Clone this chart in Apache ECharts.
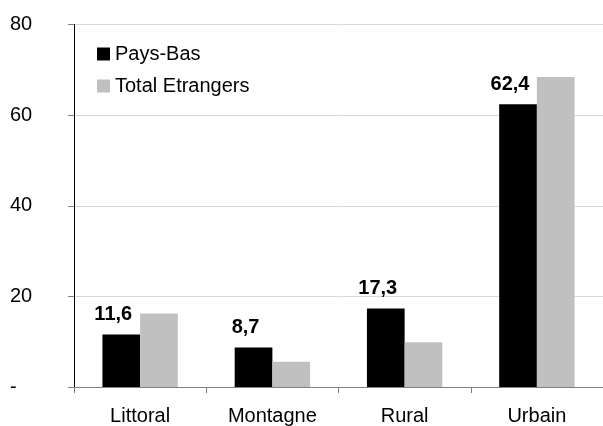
<!DOCTYPE html>
<html><head><meta charset="utf-8">
<script src="https://cdn.jsdelivr.net/npm/echarts@6/dist/echarts.min.js"></script>
<style>html,body{margin:0;padding:0;background:#fff}#c{width:603px;height:426px}</style>
</head><body><div id="c"></div>
<script>
const categories = ['Littoral', 'Montagne', 'Rural', 'Urbain'];
const paysBas = [11.6, 8.7, 17.3, 62.4];
const totalEtrangers = [16.2, 5.6, 9.9, 68.4];
const yTicks = [0, 20, 40, 60, 80];

const font = 'Liberation Sans, Arial, sans-serif';
const chart = echarts.init(document.getElementById('c'), null, {renderer: 'canvas'});
chart.setOption({
  animation: false,
  grid: {left: 74, right: -3, top: 24.5, bottom: 38.5, containLabel: false},
  legend: {
    orient: 'vertical', left: 97, top: 44, itemWidth: 13, itemHeight: 13, itemGap: 12,
    icon: 'rect', padding: 0,
    textStyle: {fontFamily: font, fontSize: 20, color: '#000'},
    data: ['Pays-Bas', 'Total Etrangers']
  },
  xAxis: {
    type: 'category', data: categories,
    axisLine: {lineStyle: {color: '#808080', width: 1}},
    axisTick: {show: true, length: 6, lineStyle: {color: '#808080'}},
    axisLabel: {fontFamily: font, fontSize: 20, color: '#000', margin: 19}
  },
  yAxis: {
    type: 'value', min: yTicks[0], max: yTicks[yTicks.length - 1], interval: 20,
    axisLine: {show: true, lineStyle: {color: '#000', width: 1}},
    axisTick: {show: true, length: 6, lineStyle: {color: '#808080'}},
    splitLine: {lineStyle: {color: '#d9d9d9', width: 1}},
    axisLabel: {fontFamily: font, fontSize: 20, color: '#000', align: 'left', margin: 64,
      formatter: v => v === 0 ? '-' : String(v)}
  },
  series: [
    {name: 'Pays-Bas', type: 'bar', data: paysBas, barGap: '0%', barCategoryGap: '43%',
     itemStyle: {color: '#000'},
     label: {show: true, position: 'top', distance: 10, offset: [-8, 0],
       fontFamily: font, fontSize: 20, fontWeight: 'bold', color: '#000',
       formatter: p => String(p.value).replace('.', ',')}},
    {name: 'Total Etrangers', type: 'bar', data: totalEtrangers, barGap: '0%', barCategoryGap: '43%',
     itemStyle: {color: '#c0c0c0'}}
  ]
});
</script></body></html>
